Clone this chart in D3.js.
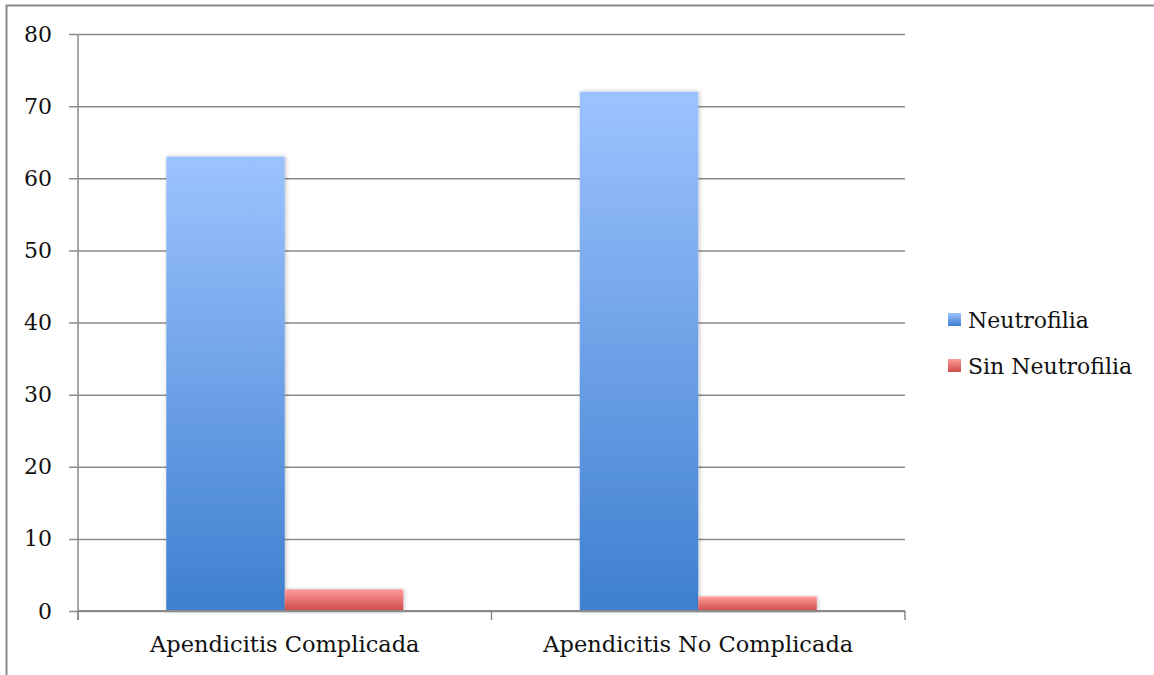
<!DOCTYPE html>
<html>
<head>
<meta charset="utf-8">
<script src="https://cdn.jsdelivr.net/npm/d3@7"></script>
<style>
  html, body { margin: 0; padding: 0; background: #fff; }
  svg { display: block; }
  text { font-family: "DejaVu Serif", "Liberation Serif", serif; fill: #111; }
</style>
</head>
<body>
<svg id="chart" width="1154" height="675"></svg>
<script>
// Chart data
const categories = ["Apendicitis Complicada", "Apendicitis No Complicada"];
const seriesNames = ["Neutrofilia", "Sin Neutrofilia"];
const neutrofilia = [63, 72];
const sinNeutrofilia = [3, 2];
const yTicks = [0, 10, 20, 30, 40, 50, 60, 70, 80];

const seriesValues = [neutrofilia, sinNeutrofilia];
const rows = categories.map((c, i) => ({
  category: c,
  values: seriesNames.map((s, j) => ({ series: s, value: seriesValues[j][i] }))
}));

const FONT = "DejaVu Serif, Liberation Serif, serif";
const svg = d3.select("#chart");
const W = 1154, H = 675;
const margin = { left: 78, right: 249, top: 34, bottom: 64 };
const plotW = W - margin.left - margin.right;
const plotH = H - margin.top - margin.bottom;

// Outer frame (clipped at the right and bottom edges)
svg.append("path")
  .attr("d", `M6.5,${H + 2} L6.5,5.5 L${W + 2},5.5`)
  .attr("fill", "none").attr("stroke", "#8a8a8a").attr("stroke-width", 2);

const defs = svg.append("defs");
const grads = [
  { id: "gBlue", top: "#9dc3ff", bottom: "#3e7fcf" },
  { id: "gRed", top: "#ff9c9a", bottom: "#cf4a48" }
];
grads.forEach(g => {
  const lg = defs.append("linearGradient").attr("id", g.id)
    .attr("x1", 0).attr("y1", 0).attr("x2", 0).attr("y2", 1);
  lg.append("stop").attr("offset", "0%").attr("stop-color", g.top);
  lg.append("stop").attr("offset", "100%").attr("stop-color", g.bottom);
});
const sh = defs.append("filter").attr("id", "shadow")
  .attr("x", "-10%").attr("y", "-10%").attr("width", "120%").attr("height", "120%");
sh.append("feDropShadow").attr("dx", 1).attr("dy", 0).attr("stdDeviation", 2)
  .attr("flood-color", "#000").attr("flood-opacity", 0.25);

const g = svg.append("g").attr("transform", `translate(${margin.left},${margin.top})`);

const y = d3.scaleLinear().domain([0, 80]).range([plotH, 0]);
const x0 = d3.scaleBand().domain(categories).range([0, plotW]).paddingInner(0).paddingOuter(0);
const x1 = d3.scaleBand().domain(seriesNames).range([0, x0.bandwidth()]).paddingInner(0).paddingOuter(0.745);
const color = d3.scaleOrdinal().domain(seriesNames).range(["url(#gBlue)", "url(#gRed)"]);

// Horizontal gridlines with left tick marks
const yAxis = d3.axisLeft(y).tickValues(yTicks).tickSize(-plotW).tickSizeOuter(0).tickPadding(26);
const ya = g.append("g").call(yAxis);
ya.select(".domain").remove();
ya.selectAll(".tick line").attr("stroke", "#8a8a8a").attr("stroke-width", 1.5).attr("x1", -9);
ya.selectAll(".tick text").attr("font-size", 22).attr("font-family", FONT).attr("fill", "#111");

// Vertical axis line
g.append("line").attr("x1", 0).attr("x2", 0).attr("y1", 0).attr("y2", plotH + 9)
  .attr("stroke", "#8a8a8a").attr("stroke-width", 1.5);

// Bars
const groups = g.selectAll(".grp").data(rows).join("g")
  .attr("transform", d => `translate(${x0(d.category)},0)`);
groups.selectAll("rect").data(d => d.values).join("rect")
  .attr("x", d => x1(d.series))
  .attr("y", d => y(d.value))
  .attr("width", x1.bandwidth())
  .attr("height", d => y(0) - y(d.value))
  .attr("fill", d => color(d.series))
  .attr("filter", "url(#shadow)");

// Category axis
const xAxis = d3.axisBottom(x0).tickSize(0).tickPadding(25);
const xa = g.append("g").attr("transform", `translate(0,${plotH})`).call(xAxis);
xa.select(".domain").remove();
xa.selectAll(".tick text").attr("font-size", 22.5).attr("font-family", FONT).attr("fill", "#111");
g.append("line").attr("x1", 0).attr("x2", plotW).attr("y1", plotH).attr("y2", plotH)
  .attr("stroke", "#8a8a8a").attr("stroke-width", 2);
const boundaries = [0, ...categories.map(c => x0(c) + x0.bandwidth())];
g.selectAll(".cat-tick").data(boundaries).join("line")
  .attr("x1", d => d).attr("x2", d => d).attr("y1", plotH).attr("y2", plotH + 9)
  .attr("stroke", "#8a8a8a").attr("stroke-width", 1.5);

// Legend
const legend = svg.append("g").attr("transform", "translate(948,313)");
const li = legend.selectAll("g").data(seriesNames).join("g")
  .attr("transform", (d, i) => `translate(0,${i * 46})`);
li.append("rect").attr("width", 13).attr("height", 13).attr("fill", d => color(d));
li.append("text").attr("x", 20).attr("y", 7).attr("dy", "0.35em")
  .attr("font-size", 22).attr("font-family", FONT).text(d => d);
</script>
</body>
</html>
